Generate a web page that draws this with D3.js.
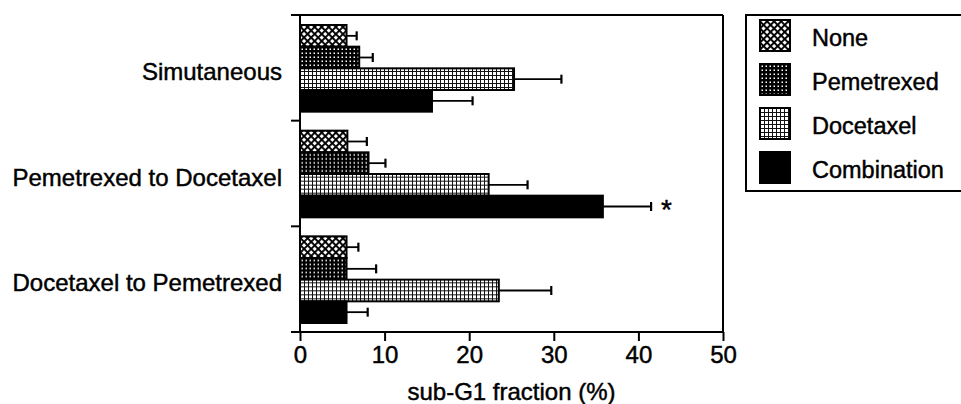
<!DOCTYPE html>
<html>
<head>
<meta charset="utf-8">
<script src="https://cdn.jsdelivr.net/npm/d3@7"></script>
<style>
  html, body { margin: 0; padding: 0; background: #fff; }
  svg { display: block; }
  text { font-family: "Liberation Sans", Arial, Helvetica, sans-serif; fill: #000; stroke: #000; stroke-width: 0.45px; }
</style>
</head>
<body>
<svg id="chart" width="961" height="404"></svg>
<script>
// ---- Data ----
const categories = ["Simutaneous", "Pemetrexed to Docetaxel", "Docetaxel to Pemetrexed"];
const seriesNames = ["None", "Pemetrexed", "Docetaxel", "Combination"];
const noneValues = [5.5, 5.6, 5.5];
const noneErrors = [1.2, 2.3, 1.4];
const pemetrexedValues = [7.0, 8.1, 5.5];
const pemetrexedErrors = [1.6, 2.0, 3.5];
const docetaxelValues = [25.3, 22.3, 23.5];
const docetaxelErrors = [5.6, 4.6, 6.2];
const combinationValues = [15.6, 35.8, 5.5];
const combinationErrors = [4.8, 5.7, 2.5];
const combinationMarks = ["", "*", ""];
const xTicks = [0, 10, 20, 30, 40, 50];
const xLabel = "sub-G1 fraction (%)";

const seriesValues = [noneValues, pemetrexedValues, docetaxelValues, combinationValues];
const seriesErrors = [noneErrors, pemetrexedErrors, docetaxelErrors, combinationErrors];
const seriesMarks = [["", "", ""], ["", "", ""], ["", "", ""], combinationMarks];

// ---- Layout ----
const svg = d3.select("#chart");
const plot = { left: 300, right: 723, top: 15, bottom: 332 };

// ---- Patterns ----
const defs = svg.append("defs");
// None: diagonal crosshatch (white diamonds)
const pNone = defs.append("pattern").attr("id", "pNone").attr("patternUnits", "userSpaceOnUse")
  .attr("width", 5).attr("height", 5).attr("patternTransform", "rotate(45)");
pNone.append("rect").attr("width", 5).attr("height", 5).attr("fill", "#fff");
pNone.append("rect").attr("width", 5).attr("height", 1.9).attr("fill", "#000");
pNone.append("rect").attr("width", 1.9).attr("height", 5).attr("fill", "#000");
// Pemetrexed: dark with small white dots
const pPem = defs.append("pattern").attr("id", "pPem").attr("patternUnits", "userSpaceOnUse")
  .attr("width", 4).attr("height", 4);
pPem.append("rect").attr("width", 4).attr("height", 4).attr("fill", "#000");
pPem.append("rect").attr("x", 1.5).attr("y", 1.5).attr("width", 1.5).attr("height", 1.5).attr("fill", "#fff");
// Docetaxel: light grid
const pDoc = defs.append("pattern").attr("id", "pDoc").attr("patternUnits", "userSpaceOnUse")
  .attr("width", 4).attr("height", 4);
pDoc.append("rect").attr("width", 4).attr("height", 4).attr("fill", "#111");
pDoc.append("rect").attr("x", 1).attr("y", 1).attr("width", 3).attr("height", 3).attr("fill", "#fff");

const fills = ["url(#pNone)", "url(#pPem)", "url(#pDoc)", "#000"];

// ---- Scales ----
const x = d3.scaleLinear().domain([0, 50]).range([plot.left, plot.right]);
const y = d3.scaleBand().domain(categories).range([plot.top, plot.bottom]).padding(0);
const ySub = d3.scaleBand().domain(seriesNames).range([10, y.bandwidth() - 9]).padding(0);

// ---- Frame (top & right) ----
svg.append("line").attr("x1", plot.left - 9).attr("x2", plot.right).attr("y1", plot.top).attr("y2", plot.top)
  .attr("stroke", "#000").attr("stroke-width", 2);
svg.append("line").attr("x1", plot.right).attr("x2", plot.right).attr("y1", plot.top).attr("y2", plot.bottom)
  .attr("stroke", "#000").attr("stroke-width", 2);

// ---- Bars ----
const groups = svg.append("g").selectAll("g").data(categories).join("g")
  .attr("transform", d => `translate(0,${y(d)})`);

seriesNames.forEach((s, si) => {
  groups.append("rect")
    .attr("x", x(0))
    .attr("y", ySub(s))
    .attr("width", (d, i) => x(seriesValues[si][i]) - x(0))
    .attr("height", ySub.bandwidth())
    .attr("fill", fills[si])
    .attr("stroke", "#000").attr("stroke-width", 2);
  // error bars
  groups.append("line")
    .attr("x1", (d, i) => x(seriesValues[si][i]))
    .attr("x2", (d, i) => x(seriesValues[si][i] + seriesErrors[si][i]))
    .attr("y1", ySub(s) + ySub.bandwidth() / 2)
    .attr("y2", ySub(s) + ySub.bandwidth() / 2)
    .attr("stroke", "#000").attr("stroke-width", 1.8);
  groups.append("line")
    .attr("x1", (d, i) => x(seriesValues[si][i] + seriesErrors[si][i]))
    .attr("x2", (d, i) => x(seriesValues[si][i] + seriesErrors[si][i]))
    .attr("y1", ySub(s) + ySub.bandwidth() / 2 - 4.5)
    .attr("y2", ySub(s) + ySub.bandwidth() / 2 + 4.5)
    .attr("stroke", "#000").attr("stroke-width", 2.2);
  groups.append("text")
    .attr("x", (d, i) => x(seriesValues[si][i] + seriesErrors[si][i]) + 10)
    .attr("y", ySub(s) + ySub.bandwidth() / 2 + 13)
    .attr("font-size", 28)
    .text((d, i) => seriesMarks[si][i]);
});

// ---- Axes ----
const xAxis = d3.axisBottom(x).tickValues(xTicks).tickSize(9).tickPadding(3).tickFormat(d3.format("d"));
const gx = svg.append("g").attr("transform", `translate(0,${plot.bottom})`).call(xAxis);
gx.select(".domain").attr("d", `M${plot.left - 9},0H${plot.right}`).attr("stroke-width", 2);
gx.selectAll(".tick line").attr("stroke-width", 2);
gx.selectAll(".tick text").attr("font-size", 24).attr("font-family", "Liberation Sans, Arial, sans-serif").attr("dy", "0.8em");

// y axis line with ticks at group boundaries
const yBounds = categories.map(c => y(c)).concat([plot.bottom]);
svg.append("line").attr("x1", plot.left).attr("x2", plot.left).attr("y1", plot.top).attr("y2", plot.bottom)
  .attr("stroke", "#000").attr("stroke-width", 2);
svg.append("g").selectAll("line").data(yBounds).join("line")
  .attr("x1", plot.left - 9).attr("x2", plot.left).attr("y1", d => d).attr("y2", d => d)
  .attr("stroke", "#000").attr("stroke-width", 2);

// category labels
svg.append("g").selectAll("text").data(categories).join("text")
  .attr("x", plot.left - 18)
  .attr("y", d => y(d) + y.bandwidth() / 2 + 12)
  .attr("text-anchor", "end")
  .attr("font-size", 24)
  .text(d => d);

// x label
svg.append("text")
  .attr("x", (plot.left + plot.right) / 2)
  .attr("y", 400)
  .attr("text-anchor", "middle")
  .attr("font-size", 24)
  .text(xLabel);

// ---- Legend ----
const legend = svg.append("g");
legend.append("rect").attr("x", 746).attr("y", 15).attr("width", 230).attr("height", 176)
  .attr("fill", "none").attr("stroke", "#000").attr("stroke-width", 2);
const lItems = legend.selectAll("g").data(seriesNames).join("g")
  .attr("transform", (d, i) => `translate(760,${20 + i * 44})`);
lItems.append("rect").attr("width", 30).attr("height", 31)
  .attr("fill", (d, i) => fills[i]).attr("stroke", "#000").attr("stroke-width", 2);
lItems.append("text").attr("x", 52).attr("y", 26).attr("font-size", 23.5).text(d => d);
</script>
</body>
</html>
